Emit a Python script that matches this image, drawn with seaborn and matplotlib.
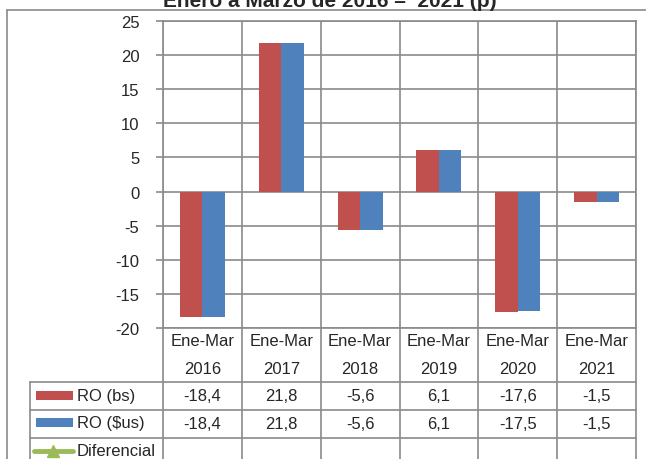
import matplotlib
matplotlib.use("Agg")
import matplotlib.pyplot as plt
import matplotlib.transforms as mtransforms
from matplotlib.lines import Line2D
from matplotlib.patches import Rectangle
import numpy as np
import pandas as pd
import seaborn as sns

# datos
periodos = ["2016", "2017", "2018", "2019", "2020", "2021"]
ro_bs = [-18.4, 21.8, -5.6, 6.1, -17.6, -1.5]
ro_us = [-18.4, 21.8, -5.6, 6.1, -17.5, -1.5]
series = ["RO (bs)", "RO ($us)"]
colores = ["#C0504D", "#4F81BD"]
verde = "#9BBB59"
titulo = "Enero a Marzo de 2016 \u2013  2021 (p)"

df = pd.DataFrame({
    "periodo": periodos * 2,
    "valor": ro_bs + ro_us,
    "serie": [series[0]] * len(periodos) + [series[1]] * len(periodos),
})

W, H = 646, 460
gris = "#8A8A8A"
sns.set_style("white")
plt.rcParams['font.family'] = ['Liberation Sans', 'DejaVu Sans']

fig = plt.figure(figsize=(W / 100, H / 100), dpi=100)

def fx(x):
    return x / W

def fy(y):
    return 1 - y / H

# area del grafico
left, right, top, bottom = 163, 636, 22, 329
ax = fig.add_axes([fx(left), fy(bottom), fx(right) - fx(left), fy(top) - fy(bottom)])

sns.barplot(data=df, x="periodo", y="valor", hue="serie", palette=colores,
            width=0.57, saturation=1, linewidth=0, ax=ax, legend=False, zorder=3)

ax.set_xlim(-0.5, len(periodos) - 0.5)
ax.set_ylim(-20, 25)
ax.set_yticks(np.arange(-20, 26, 5))
ax.set_yticklabels([str(v) for v in range(-20, 26, 5)], fontsize=12)
ax.set_xticks([])
ax.set_xlabel("")
ax.set_ylabel("")
ax.tick_params(axis="y", length=5, width=1.2, color=gris, pad=12, left=True)
for yv in range(-20, 26, 5):
    ax.axhline(yv, color=gris, lw=1.2, zorder=1)
for xv in np.arange(-0.5, len(periodos), 1):
    ax.axvline(xv, color=gris, lw=1.2, zorder=1)
for s in ax.spines.values():
    s.set_color(gris)
    s.set_linewidth(1.2)

# tabla de datos
tr = mtransforms.blended_transform_factory(ax.transData, fig.transFigure)
for xv in np.arange(-0.5, len(periodos), 1):
    fig.add_artist(Line2D([xv, xv], [fy(bottom), fy(H + 5)], transform=tr, color=gris, lw=1.2))
for yl in [383, 411, 439]:
    fig.add_artist(Line2D([fx(30), fx(right)], [fy(yl), fy(yl)], color=gris, lw=1.2))
fig.add_artist(Line2D([fx(30), fx(30)], [fy(383), fy(H + 5)], color=gris, lw=1.2))

for i, p in enumerate(periodos):
    fig.text(i, fy(342), "Ene-Mar", transform=tr, ha="center", va="center", fontsize=12)
    fig.text(i, fy(369), p, transform=tr, ha="center", va="center", fontsize=12)
    fig.text(i, fy(397), f"{ro_bs[i]:.1f}".replace(".", ","), transform=tr,
             ha="center", va="center", fontsize=12)
    fig.text(i, fy(425), f"{ro_us[i]:.1f}".replace(".", ","), transform=tr,
             ha="center", va="center", fontsize=12)

# claves de leyenda
for yk, col, lab in [(392, colores[0], series[0]), (419, colores[1], series[1])]:
    fig.add_artist(Rectangle((fx(36), fy(yk + 9)), fx(37), 9 / H, transform=fig.transFigure,
                             facecolor=col, edgecolor="none"))
    fig.text(fx(77), fy(yk + 5), lab, ha="left", va="center", fontsize=12)
fig.add_artist(Line2D([fx(34), fx(73)], [fy(452), fy(452)], color=verde, lw=3.5))
fig.add_artist(Line2D([fx(53)], [fy(452)], color=verde, marker="^", markersize=9))
fig.text(fx(77), fy(452), "Diferencial", ha="left", va="center", fontsize=12)

# borde exterior
fig.add_artist(Line2D([fx(7), fx(7)], [fy(11), fy(H + 5)], color=gris, lw=1.2))
fig.add_artist(Line2D([fx(7), fx(W + 5)], [fy(11), fy(11)], color=gris, lw=1.2))

fig.text(fx(330), fy(7), titulo, ha="center", va="baseline", fontsize=15, fontweight="bold")

fig.savefig("out.png", dpi=100)
